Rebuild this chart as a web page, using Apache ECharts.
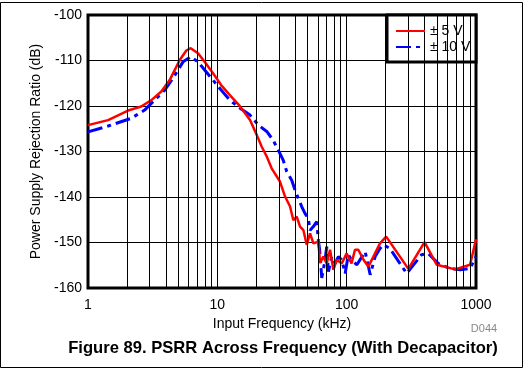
<!DOCTYPE html>
<html>
<head>
<meta charset="utf-8">
<script src="https://cdn.jsdelivr.net/npm/echarts@6/dist/echarts.min.js"></script>
<style>
html,body{margin:0;padding:0;background:#fff;}
#c{width:525px;height:372px;}
</style>
</head>
<body>
<div id="c"></div>
<script>
// ---- data ----
var seriesNames = ['± 5 V', '± 10 V'];
var xTickLabels = ['1', '10', '100', '1000'];
var yTickLabels = ['-100', '-110', '-120', '-130', '-140', '-150', '-160'];
var minorFreqs = [2,3,4,5,6,7,8,9,20,30,40,50,60,70,80,90,200,300,400,500,600,700,800,900];

var freq5V = [1,1.43,2.04,2.58,3.09,3.69,4.28,5.12,5.76,6.22,7.09,7.98,9.26,10.7,12.5,15.0,17.9,20.2,22.0,24.1,26.3,30.5,33.4,36.5,38.7,41.1,43.6,46.3,49.1,52.1,55.3,60.4,62.3,66.0,70.1,74.4,78.9,83.8,91.6,100,109,116,123,135,147,161,181,202,300,400,498,689,900,1000];
var db5V   = [-124.2,-123.1,-121.0,-120.1,-118.7,-116.8,-114.3,-109.9,-107.8,-107.3,-108.4,-110.3,-112.8,-115.4,-117.6,-120.1,-123.1,-126.4,-128.9,-131.1,-133.7,-136.6,-139.9,-142.1,-145.1,-144.3,-146.5,-147.3,-150.5,-148.0,-150.2,-149.8,-154.5,-153.1,-154.6,-151.6,-156.0,-153.8,-154.6,-152.4,-154.6,-151.6,-151.6,-153.8,-155.3,-153.1,-150.2,-148.7,-155.8,-149.9,-154.9,-155.9,-154.9,-149.3];

var freq10V = [1,1.43,2.16,2.74,3.28,3.92,4.54,5.43,6.22,7.09,7.98,9.26,10.7,12.5,15.0,17.9,20.8,24.1,27.0,29.6,32.3,34.4,37.6,39.9,42.3,44.9,47.6,50.5,52.1,55.3,58.7,60.4,61.8,64.2,68.1,70.1,72.3,76.6,81.4,86.3,91.6,97.3,103,109,120,139,152,166,181,192,216,291,336,379,426,510,628,756,900,1000];
var db10V   = [-125.7,-124.4,-122.7,-120.9,-118.7,-116.5,-113.9,-110.3,-109.2,-110.3,-112.1,-114.3,-116.5,-118.7,-120.5,-122.0,-124.2,-125.6,-127.5,-129.7,-131.9,-134.4,-136.3,-138.5,-140.3,-142.1,-143.6,-144.7,-147.3,-146.5,-145.4,-149.5,-151.6,-157.8,-153.8,-150.9,-156.4,-153.1,-154.6,-153.1,-153.8,-156.8,-152.7,-153.8,-154.9,-152.0,-157.1,-153.1,-151.3,-150.5,-151.3,-156.8,-154.6,-152.7,-152.4,-154.6,-155.7,-156.0,-155.7,-153.1];

function zip(a, b) { return a.map(function (v, i) { return [v, b[i]]; }); }

var FONT = 'Liberation Sans, Arial, sans-serif';
var chart = echarts.init(document.getElementById('c'), null, { renderer: 'canvas' });

chart.setOption({
  animation: false,
  backgroundColor: '#ffffff',
  textStyle: { fontFamily: FONT },
  grid: {
    left: 88, top: 15, width: 388, height: 273,
    show: true, borderColor: '#000', borderWidth: 3, backgroundColor: 'transparent'
  },
  xAxis: {
    type: 'log', logBase: 10, min: 1, max: 1000,
    name: 'Input Frequency (kHz)', nameLocation: 'middle', nameGap: 26,
    nameTextStyle: { color: '#000', fontSize: 14, fontFamily: FONT },
    axisLine: { show: false }, axisTick: { show: false },
    axisLabel: {
      color: '#000', fontSize: 14, margin: 10, fontFamily: FONT,
      formatter: function (v) {
        var i = Math.round(Math.log10(v));
        return xTickLabels[i] !== undefined ? xTickLabels[i] : '';
      }
    },
    splitLine: { show: true, lineStyle: { color: '#000', width: 1 } }
  },
  yAxis: {
    type: 'value', min: -160, max: -100, interval: 10,
    name: 'Power Supply Rejection Ratio (dB)', nameLocation: 'middle', nameGap: 43,
    nameTextStyle: { color: '#000', fontSize: 14, fontFamily: FONT },
    axisLine: { show: false }, axisTick: { show: false },
    axisLabel: {
      color: '#000', fontSize: 14, margin: 6, fontFamily: FONT,
      formatter: function (v) {
        var i = Math.round((-100 - v) / 10);
        return yTickLabels[i] !== undefined ? yTickLabels[i] : '';
      }
    },
    splitLine: { show: true, lineStyle: { color: '#000', width: 1 } }
  },
  legend: {
    left: 395, top: 24, orient: 'vertical', itemGap: 2, padding: 0,
    itemWidth: 29, itemHeight: 14, z: 10,
    itemStyle: { opacity: 0, borderWidth: 0 },
    textStyle: { color: '#000', fontSize: 14, fontFamily: FONT },
    data: [
      { name: seriesNames[0] },
      { name: seriesNames[1] }
    ]
  },
  graphic: [
    { type: 'rect', z: 5, shape: { x: 387, y: 15, width: 89, height: 47 },
      style: { fill: '#fff', stroke: '#000', lineWidth: 3 } },
    { type: 'rect', z: 1, silent: true, shape: { x: 0.5, y: 2.5, width: 522, height: 365 },
      style: { fill: 'none', stroke: '#000', lineWidth: 1 } },
    { type: 'text', z: 5, x: 283, y: 348,
      style: { text: 'Figure 89. PSRR Across Frequency (With Decapacitor)', fill: '#000',
        font: 'bold 16.6px ' + FONT, textAlign: 'center', textVerticalAlign: 'middle' } },
    { type: 'text', z: 5, x: 484, y: 329,
      style: { text: 'D044', fill: '#888', font: '11px ' + FONT, textAlign: 'center', textVerticalAlign: 'middle' } }
  ],
  series: [
    {
      name: 'minor', type: 'line', data: [], silent: true,
      markLine: {
        silent: true, symbol: 'none', label: { show: false },
        lineStyle: { color: '#000', width: 1, type: 'solid' },
        data: minorFreqs.map(function (f) { return { xAxis: f }; })
      }
    },
    {
      name: seriesNames[0], type: 'line', showSymbol: false, symbol: 'none', z: 4,
      data: zip(freq5V, db5V),
      lineStyle: { color: '#ff0000', width: 2.5 }, itemStyle: { color: '#ff0000' }
    },
    {
      name: seriesNames[1], type: 'line', showSymbol: false, symbol: 'none', z: 3,
      data: zip(freq10V, db10V),
      lineStyle: { color: '#0000ff', width: 3, type: [15, 5, 4, 5] }, itemStyle: { color: '#0000ff' }
    }
  ]
});
</script>
</body>
</html>
